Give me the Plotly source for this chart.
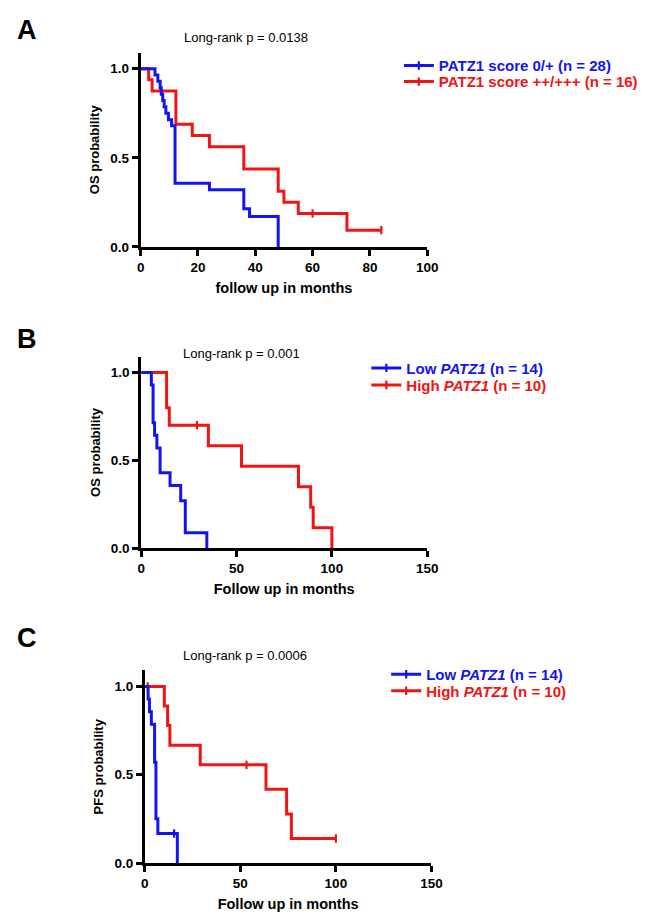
import plotly.graph_objects as go

BLUE = "#1414f0"
RED = "#f01414"

# ---------------- Panel A (IHC score, OS) ----------------
a_low_t = [0, 5.0, 6.0, 6.8, 7.2, 7.7, 8.2, 8.8, 9.7, 10.8, 12.0, 24.0, 36.0, 38.0, 48.0]
a_low_s = [1, 0.964, 0.929, 0.893, 0.857, 0.821, 0.786, 0.75, 0.714, 0.679, 0.357, 0.321, 0.214, 0.171, 0.0]
a_low_cens_t = []
a_low_cens_s = []
a_high_t = [0, 2.8, 4.0, 12.3, 18.0, 24.0, 36.0, 48.0, 50.0, 55.0, 72.0, 84.0]
a_high_s = [1, 0.9375, 0.875, 0.6875, 0.625, 0.5625, 0.4375, 0.3125, 0.25, 0.1875, 0.094, 0.094]
a_high_cens_t = [60, 84]
a_high_cens_s = [0.1875, 0.094]

# ---------------- Panel B (mRNA, OS) ----------------
b_low_t = [0, 5.3, 6.2, 7.0, 8.2, 9.9, 15.1, 20.7, 23.1, 34.4]
b_low_s = [1, 0.929, 0.714, 0.643, 0.571, 0.429, 0.357, 0.271, 0.088, 0.0]
b_low_cens_t = []
b_low_cens_s = []
b_high_t = [0, 13.3, 14.7, 35.2, 52.6, 82.5, 88.9, 90.2, 100.0]
b_high_s = [1, 0.8, 0.7, 0.583, 0.467, 0.35, 0.233, 0.117, 0.0]
b_high_cens_t = [29.2]
b_high_cens_s = [0.7]

# ---------------- Panel C (mRNA, PFS) ----------------
c_low_t = [0, 1.7, 2.4, 3.4, 5.1, 5.8, 6.8, 17.0]
c_low_s = [1, 0.929, 0.857, 0.786, 0.571, 0.25, 0.167, 0.0]
c_low_cens_t = [15.3]
c_low_cens_s = [0.167]
c_high_t = [0, 10.2, 11.9, 13.1, 29.0, 63.4, 74.2, 76.7, 100.0]
c_high_s = [1, 0.889, 0.778, 0.667, 0.556, 0.417, 0.278, 0.139, 0.139]
c_high_cens_t = [1.5, 53.2, 100.0]
c_high_cens_s = [1.0, 0.556, 0.139]

panel_letters = ["A", "B", "C"]
pvalue_texts = ["Long-rank p = 0.0138", "Long-rank p = 0.001", "Long-rank p = 0.0006"]
y_titles = ["OS probability", "OS probability", "PFS probability"]
x_titles = ["follow up in months", "Follow up in months", "Follow up in months"]
legend_low = ["PATZ1 score 0/+ (n = 28)", "Low <i>PATZ1</i> (n = 14)", "Low <i>PATZ1</i> (n = 14)"]
legend_high = ["PATZ1 score ++/+++ (n = 16)", "High <i>PATZ1</i> (n = 10)", "High <i>PATZ1</i> (n = 10)"]
x_max = [100, 150, 150]
x_dtick = [20, 50, 50]

W, H = 650, 921
FONT = "Liberation Sans, Arial, sans-serif"

panels = [
    dict(low=(a_low_t, a_low_s, a_low_cens_t, a_low_cens_s),
         high=(a_high_t, a_high_s, a_high_cens_t, a_high_cens_s)),
    dict(low=(b_low_t, b_low_s, b_low_cens_t, b_low_cens_s),
         high=(b_high_t, b_high_s, b_high_cens_t, b_high_cens_s)),
    dict(low=(c_low_t, c_low_s, c_low_cens_t, c_low_cens_s),
         high=(c_high_t, c_high_s, c_high_cens_t, c_high_cens_s)),
]

# pixel geometry of each plot area: (left, right, top, bottom)
geom = [(131.7, 425.0, 45.0, 241.0), (132.3, 425.0, 351.7, 545.0), (136.0, 429.3, 668.3, 862.5)]
# legend rows: (text-start x, row1 y, row2 y)
legend_pos = [(436, 58.3, 74.5), (402.7, 363.3, 380.5), (423, 672.3, 689)]
pval_pos = [(174, 30), (173, 348.3), (173.3, 652.7)]
letter_pos = [(15, 22), (15, 334), (15, 636)]

fig = go.Figure()
annotations = []
layout = {}
leg_idx = 0

for i, p in enumerate(panels):
    n = "" if i == 0 else str(i + 1)
    xa, ya = "x" + n, "y" + n
    for key, color in (("high", RED), ("low", BLUE)):
        t, s, ct, cs = p[key]
        fig.add_trace(go.Scatter(x=t, y=s, mode="lines", line=dict(color=color, width=3, shape="hv"),
                                 xaxis=xa, yaxis=ya, showlegend=False, hoverinfo="skip"))
        if ct:
            fig.add_trace(go.Scatter(x=ct, y=cs, mode="markers",
                                     marker=dict(symbol="line-ns", size=6, line=dict(color=color, width=2.2)),
                                     xaxis=xa, yaxis=ya, showlegend=False, hoverinfo="skip", cliponaxis=False))
    tx, r1, r2 = legend_pos[i]
    for color, name, ry in ((BLUE, legend_low[i], r1), (RED, legend_high[i], r2)):
        leg_idx += 1
        leg = "legend" if leg_idx == 1 else "legend" + str(leg_idx)
        fig.add_trace(go.Scatter(x=[None], y=[None], mode="lines+markers",
                                 name="<span style='color:%s'>%s</span>" % (color, name),
                                 line=dict(color=color, width=3),
                                 marker=dict(symbol="line-ns", size=6, line=dict(color=color, width=2.2)),
                                 xaxis=xa, yaxis=ya, legend=leg, showlegend=True))
        layout[leg] = dict(x=(tx - 40) / W, y=1 - ry / H, xanchor="left", yanchor="middle",
                           bgcolor="rgba(0,0,0,0)", borderwidth=0,
                           font=dict(family=FONT, size=15, color="black", weight="bold"))
    l, r, t_, b = geom[i]
    axis_common = dict(showline=True, linecolor="black", linewidth=3, ticks="outside", ticklen=6,
                       tickwidth=3, tickcolor="black", showgrid=False, zeroline=False,
                       tickfont=dict(family=FONT, size=13.5, color="black", weight="bold"))
    layout["xaxis" + n] = dict(axis_common, domain=[l / W, r / W], range=[0, x_max[i]], dtick=x_dtick[i],
                               tick0=0, anchor=ya,
                               title=dict(text=x_titles[i], standoff=9,
                                          font=dict(family=FONT, size=14.5, color="black", weight="bold")))
    layout["yaxis" + n] = dict(axis_common, domain=[1 - b / H, 1 - t_ / H], range=[0, 1.09],
                               tickvals=[0, 0.5, 1.0], ticktext=["0.0", "0.5", "1.0"], anchor=xa,
                               title=dict(text=y_titles[i], standoff=8,
                                          font=dict(family=FONT, size=13, color="black", weight="bold")))
    px_, py_ = pval_pos[i]
    annotations.append(dict(text=pvalue_texts[i], x=px_ / W, y=1 - py_ / H, xref="paper", yref="paper",
                            xanchor="left", yanchor="middle", showarrow=False,
                            font=dict(family=FONT, size=13, color="black")))
    qx, qy = letter_pos[i]
    annotations.append(dict(text=panel_letters[i], x=qx / W, y=1 - qy / H, xref="paper", yref="paper",
                            xanchor="center", yanchor="middle", showarrow=False,
                            font=dict(family=FONT, size=27, color="black", weight="bold")))

fig.update_layout(width=W, height=H, margin=dict(l=0, r=0, t=0, b=0), plot_bgcolor="white",
                  paper_bgcolor="white", annotations=annotations, **layout)

fig.write_html("out.html")
